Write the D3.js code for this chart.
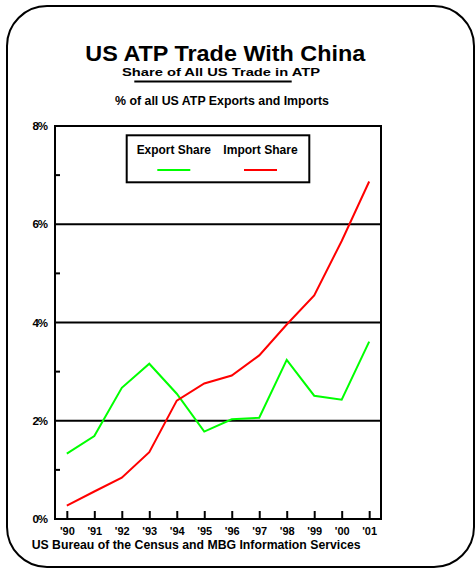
<!DOCTYPE html>
<html><head><meta charset="utf-8">
<script src="https://cdn.jsdelivr.net/npm/d3@7/dist/d3.min.js"></script>
<style>body{margin:0;background:#fff}svg{display:block}text{font-family:"Liberation Sans",Arial,sans-serif;font-weight:bold;fill:#000}</style>
</head><body>
<script>
const years = ["'90","'91","'92","'93","'94","'95","'96","'97","'98","'99","'00","'01"];
const exportShare = [1.33,1.69,2.67,3.16,2.55,1.78,2.03,2.06,3.24,2.51,2.43,3.61];
const importShare = [0.27,0.56,0.84,1.36,2.41,2.76,2.92,3.33,3.96,4.55,5.66,6.87];
const yMajor = [0,2,4,6,8];
const yMinor = [1,3,5,7];
const seriesNames = ["Export Share","Import Share"];
const seriesColors = ["#00ff00","#ff0000"];

const W=475,H=569;
const svg=d3.select("body").append("svg").attr("width",W).attr("height",H);
svg.append("rect").attr("x",7).attr("y",6).attr("width",467).attr("height",561).attr("rx",40).attr("ry",40)
  .attr("fill","none").attr("stroke","#000").attr("stroke-width",2);

function txt(s,x,y,size,len,anchor){
  const t=svg.append("text").attr("x",x).attr("y",y).attr("font-size",size).attr("text-anchor",anchor||"middle").text(s);
  if(len) t.attr("textLength",len).attr("lengthAdjust","spacingAndGlyphs");
  return t;
}
txt("US ATP Trade With China",225.3,61,22.5,280);
txt("Share of All US Trade in ATP",221,76,11,198);
svg.append("line").attr("x1",134.3).attr("x2",291.7).attr("y1",81.5).attr("y2",81.5).attr("stroke","#000").attr("stroke-width",2);
txt("%  of all US ATP Exports and Imports",222,105,12,214);
txt("US Bureau of the Census and MBG Information Services",31.7,549,12.5,329,"start");

const L=55,R=381,T=126,B=519;
const x=d3.scalePoint(years,[L,R]).padding(0.43);
const y=d3.scaleLinear([0,8],[B,T]);

const g=svg.append("g");
g.selectAll(".grid").data(yMajor.filter(v=>v>0&&v<8)).join("line")
  .attr("x1",L).attr("x2",R).attr("y1",d=>y(d)).attr("y2",d=>y(d)).attr("stroke","#000").attr("stroke-width",2);
g.selectAll(".minor").data(yMinor).join("line")
  .attr("x1",L).attr("x2",L+5).attr("y1",d=>y(d)).attr("y2",d=>y(d)).attr("stroke","#000").attr("stroke-width",2);

const xa=svg.append("g").attr("transform",`translate(0,${B})`)
  .call(d3.axisBottom(x).tickSize(-8).tickPadding(8));
xa.select(".domain").remove();
xa.selectAll(".tick line").attr("stroke","#000").attr("stroke-width",2);
xa.selectAll(".tick text").attr("font-size",11).attr("font-family","Liberation Sans, Arial, sans-serif").attr("font-weight","bold").attr("fill","#000");

const ya=svg.append("g").attr("transform",`translate(${L},0)`)
  .call(d3.axisLeft(y).tickValues(yMajor).tickFormat(d=>d+"%").tickSize(0).tickPadding(8));
ya.select(".domain").remove();
ya.selectAll(".tick text").attr("font-size",11.5).attr("font-family","Liberation Sans, Arial, sans-serif").attr("font-weight","bold").attr("fill","#000").attr("letter-spacing",-1);

const line=d3.line().x((d,i)=>x(years[i])).y(d=>y(d));
[exportShare,importShare].forEach((s,i)=>{
  svg.append("path").attr("d",line(s)).attr("fill","none").attr("stroke",seriesColors[i]).attr("stroke-width",2).attr("stroke-linejoin","miter");
});

svg.append("rect").attr("x",L).attr("y",T).attr("width",R-L).attr("height",B-T).attr("fill","none").attr("stroke","#000").attr("stroke-width",2);

svg.append("rect").attr("x",126.7).attr("y",135.3).attr("width",182.6).attr("height",47).attr("fill","#fff").attr("stroke","#000").attr("stroke-width",2);
const lc=[173.8,260.5];
seriesNames.forEach((n,i)=>{
  txt(n,lc[i],153.5,12.5,74.3);
  svg.append("line").attr("x1",lc[i]-16.5).attr("x2",lc[i]+16.5).attr("y1",170).attr("y2",170).attr("stroke",seriesColors[i]).attr("stroke-width",2);
});
</script>
</body></html>
